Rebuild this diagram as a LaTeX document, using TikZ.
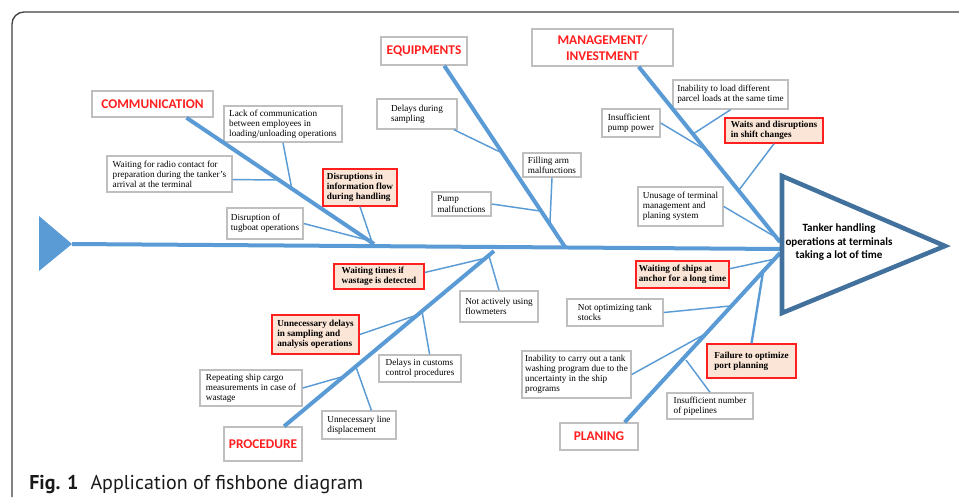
\documentclass[tikz,border=0pt]{standalone}
\usepackage{fontspec}
\setmainfont{Liberation Serif}
\newfontfamily\calibri{Carlito}
\newfontfamily\figfont{PT Sans}
\usepackage{tikz}
\usepackage{xcolor}

\definecolor{boneblue}{HTML}{5B9BD5}
\definecolor{headblue}{HTML}{41719C}
\definecolor{boxgray}{HTML}{BFBFBF}
\definecolor{peach}{HTML}{FBE5D6}
\definecolor{hotred}{HTML}{FF1F1F}

\tikzset{
  bone/.style={line width=3pt, color=boneblue},
  twig/.style={line width=1.1pt, color=boneblue},
  boxsize/.style 2 args={minimum width=#1*0.75pt, minimum height=#2*0.75pt},
  category/.style={draw=boxgray, line width=1.1pt, fill=white, text=hotred, align=center, inner sep=1pt, font=\calibri\bfseries\fontsize{10}{12}\selectfont},
  cause/.style={draw=boxgray, line width=1.1pt, fill=white, align=left, inner sep=1pt, font=\fontsize{6.9}{7.6}\selectfont},
  hotcause/.style={cause, draw=hotred, fill=peach, font=\bfseries\fontsize{6.9}{7.6}\selectfont}
}

\begin{document}
\begin{tikzpicture}[x=0.75pt, y=-0.75pt]

\pgfmathsetmacro{\headx}{782}
\pgfmathsetmacro{\tipx}{945}

\useasboundingbox (0,0) rectangle (959,497);

% Frame
\draw[black!75, line width=1pt, rounded corners=9pt] (12,497) -- (12,12) -- (959,12);

% Categories
\draw (152.5,104) node[category, boxsize={121}{26}] (comm) {COMMUNICATION};
\draw (424,51) node[category, boxsize={86}{28}] (equip) {EQUIPMENTS};
\draw (602.5,47.5) node[category, boxsize={141}{37}] (mgmt) {MANAGEMENT/\\INVESTMENT};
\draw (263,444) node[category, boxsize={78}{34}] (proc) {PROCEDURE};
\draw (599,436.5) node[category, boxsize={78}{27}] (plan) {PLANING};

% Causes, upper half
\draw (283,124) node[cause, boxsize={118}{36}] (lackcomm) {Lack of communication\\between employees in\\loading/unloading operations};
\draw (169.5,174) node[cause, boxsize={125}{36}] (radio) {Waiting for radio contact for\\preparation during the tanker's\\arrival at the terminal};
\draw (265,223.5) node[cause, boxsize={76}{31}] (tugboat) {Disruption of\\tugboat operations};
\draw (360,187.5) node[hotcause, boxsize={74}{37}] (infoflow) {Disruptions in\\information flow\\during handling};
\draw (417,114) node[cause, boxsize={80}{30}] (sampling) {Delays during\\sampling};
\draw (552,165) node[cause, boxsize={58}{24}] (fillarm) {Filling arm\\malfunctions};
\draw (461.5,204) node[cause, boxsize={59}{24}] (pump) {Pump\\malfunctions};
\draw (730.5,94.5) node[cause, boxsize={115}{29}] (parcel) {Inability to load different\\parcel loads at the same time};
\draw (631,123) node[cause, boxsize={58}{28}] (pumppower) {Insufficient\\pump power};
\draw (774,130.5) node[hotcause, boxsize={98}{25}] (shift) {Waits and disruptions\\in shift changes};
\draw (680.5,206.5) node[cause, boxsize={85}{39}] (unusage) {Unusage of terminal\\management and\\planing system};

% Causes, lower half
\draw (379,276.5) node[hotcause, boxsize={90}{25}] (wastage) {Waiting times if\\wastage is detected};
\draw (499,306.5) node[cause, boxsize={78}{31}] (flowmeters) {Not actively using\\flowmeters};
\draw (315.5,334.5) node[hotcause, boxsize={87}{39}] (delayssamp) {Unnecessary delays\\in sampling and\\analysis operations};
\draw (420,368.5) node[cause, boxsize={82}{27}] (customs) {Delays in customs\\control procedures};
\draw (251,388) node[cause, boxsize={102}{36}] (repeating) {Repeating ship cargo\\measurements in case of\\wastage};
\draw (359,425) node[cause, boxsize={74}{28}] (linedisp) {Unnecessary line\\displacement};
\draw (682.5,274.5) node[hotcause, boxsize={93}{27}] (anchor) {Waiting of ships at\\anchor for a long time};
\draw (751.5,361) node[hotcause, boxsize={89}{34}] (portplan) {Failure to optimize\\port planning};
\draw (615,312.5) node[cause, boxsize={96}{27}] (tankstocks) {Not optimizing tank\\stocks};
\draw (576.5,374.5) node[cause, boxsize={109}{47}] (tankwash) {Inability to carry out a tank\\washing program due to the\\uncertainty in the ship\\programs};
\draw (710,406) node[cause, boxsize={86}{26}] (pipelines) {Insufficient number\\of pipelines};

% Points on the bones
\foreach \n/\x/\y in {spinetail/72/244, spinehead/782/249,
  commroot/374/244, equiproot/565/247, mgmtroot/780/242, procroot/494/251, planroot/780/253,
  lackin/292/190, radioin/276/180, tugin/371/241, infoin/372/242,
  samplingin/500/152, fillarmin/550/222, pumpin/540/211,
  parcelin/693/134, pumppowerin/704/149, shiftin/739/190, unusagein/777/238,
  wastagein/486/258, flowin/489/256, delaysin/417/315, customsin/422/311,
  repeatin/345/376, linein/356/367,
  anchorin/775/259, portin/763/272, stocksin/730/306, washin/705/334, pipein/686/360}
  \coordinate (\n) at (\x,\y);

% Tail and spine
\fill[boneblue] (39,216) -- (spinetail) -- (39,271) -- cycle;
\draw[bone] (spinetail) -- (spinehead);

% Main bones
\draw[bone] (comm.-22) -- (commroot);
\draw[bone] (equip.-36) -- (equiproot);
\draw[bone] (mgmt.-28) -- (mgmtroot);
\draw[bone] (proc.40) -- (procroot);
\draw[bone] (plan.29) -- (planroot);

% Small bones
\foreach \from/\to in {lackcomm.south/lackin, radio.-5/radioin, tugboat.east/tugin, infoflow.south/infoin,
  sampling.-23/samplingin, fillarm.south/fillarmin, pump.east/pumpin,
  parcel.south/parcelin, pumppower.east/pumppowerin, shift.south/shiftin, unusage.east/unusagein,
  wastage.5/wastagein, flowmeters.north/flowin, delayssamp.east/delaysin, customs.56/customsin,
  repeating.east/repeatin, linedisp.50/linein,
  anchor.7/anchorin, tankstocks.east/stocksin, tankwash.east/washin, pipelines.north/pipein}
  \draw[twig] (\from) -- (\to);
\draw[twig, line width=1.8pt] (portplan.north) -- (portin);

% Head
\draw[headblue, line width=3.4pt, line join=miter] (\headx,176) -- (\tipx,246) -- (\headx,313) -- cycle;
\draw (839,242.5) node[align=center, inner sep=0pt, font=\calibri\bfseries\fontsize{8.3}{10.1}\selectfont] (effect) {Tanker handling\\operations at terminals\\taking a lot of time};

% Caption
\draw (29,489) node[anchor=base west, inner sep=0pt, text=black!90, font=\figfont\fontsize{15}{18}\selectfont] (caption) {\textbf{Fig. 1}\hspace{0.6em}Application of fishbone diagram};

\end{tikzpicture}
\end{document}
